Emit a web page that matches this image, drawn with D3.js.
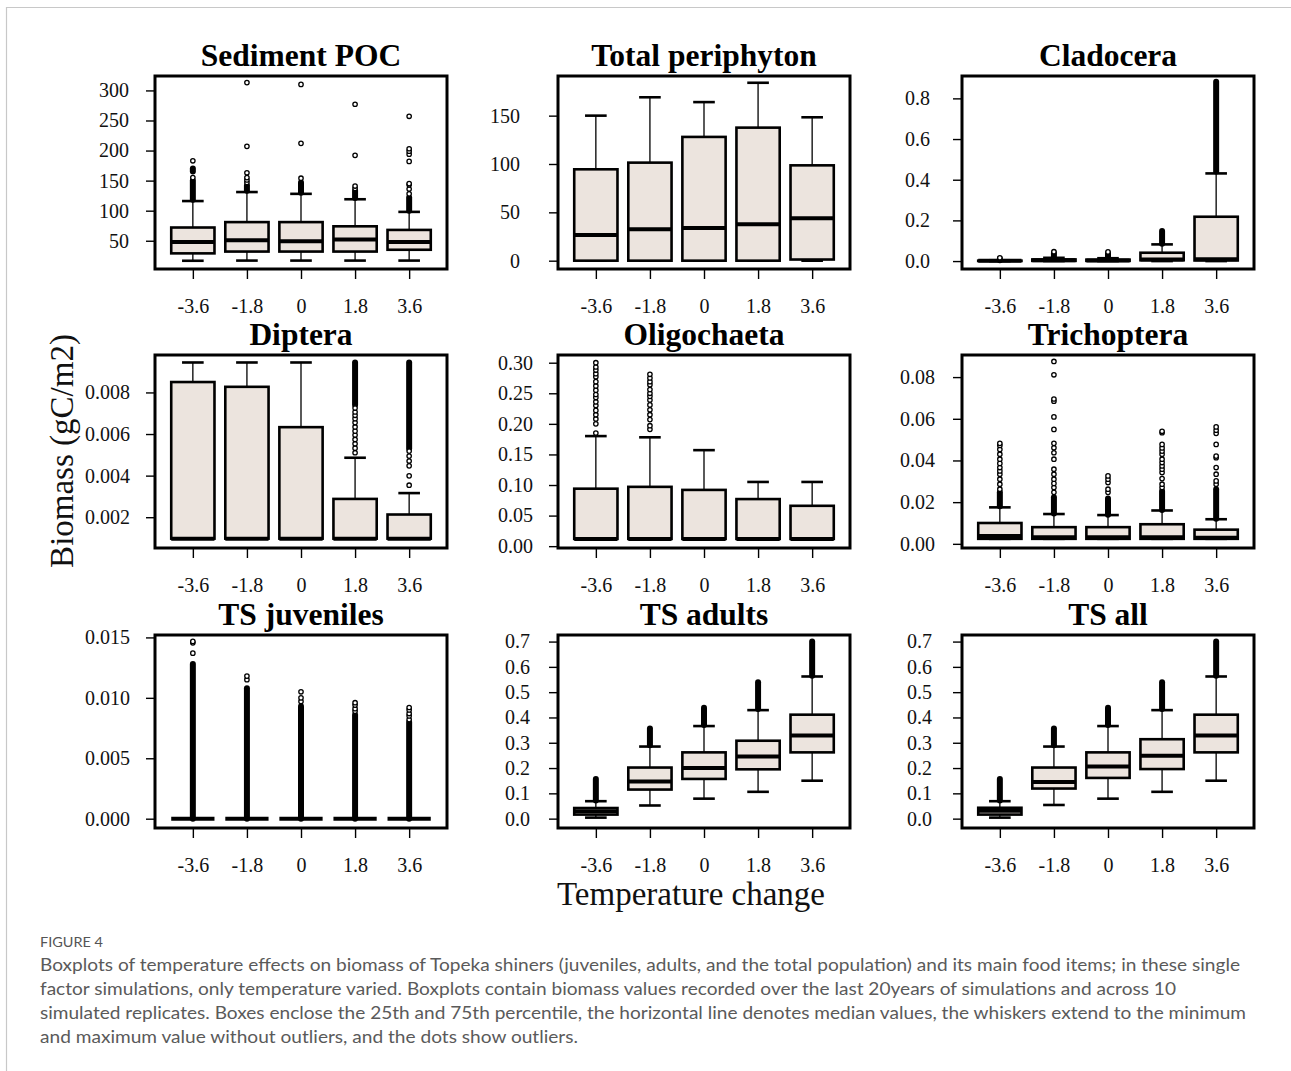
<!DOCTYPE html>
<html><head><meta charset="utf-8">
<script src="https://cdn.jsdelivr.net/npm/d3@7"></script>
<style>body{margin:0;background:#fff} svg{display:block}</style>
</head><body>
<script>
// ---------------- DATA ----------------
const categories = ["-3.6", "-1.8", "0", "1.8", "3.6"];
const panelTitles = ["Sediment POC", "Total periphyton", "Cladocera", "Diptera", "Oligochaeta", "Trichoptera", "TS juveniles", "TS adults", "TS all"];

// box statistics per category: [lowerWhisker, Q1, median, Q3, upperWhisker]
const sedimentStats = [[16.7, 29, 48, 72, 116], [17, 32, 51, 81, 131], [17, 32, 49, 81, 128], [17, 32, 52, 74, 119], [17, 35, 48, 68, 98]];
const sedimentDense = [[[118, 150], [165, 170]], [[133, 142]], [[130, 147]], [[121, 133]], [[100, 122]]];
const sedimentOut = [[155, 183], [147, 151, 155, 163, 207, 313], [154, 212, 310], [137, 141, 192, 277], [128, 136, 143, 145, 182, 194, 199, 203, 257]];

const periphytonStats = [[0, 0, 26.6, 94.5, 150], [0, 0, 32.4, 101.4, 169], [0, 0, 33.8, 128, 164], [0, 0, 37.6, 137.6, 184], [0, 1.2, 43.8, 98.6, 148.3]];
const periphytonDense = [[], [], [], [], []];
const periphytonOut = [[], [], [], [], []];

const cladoceraStats = [[0, 0.0005, 0.001, 0.002, 0.004], [0, 0.001, 0.004, 0.008, 0.016], [0, 0.001, 0.003, 0.007, 0.014], [0, 0.004, 0.008, 0.041, 0.082], [0, 0.003, 0.009, 0.218, 0.431]];
const cladoceraDense = [[[0.004, 0.012]], [[0.016, 0.04]], [[0.014, 0.038]], [[0.085, 0.148]], [[0.44, 0.882]]];
const cladoceraOut = [[0.016], [0.046], [0.045], [], []];

const dipteraStats = [[0.00097, 0.00097, 0.00097, 0.0085, 0.00944], [0.00097, 0.00097, 0.00097, 0.00827, 0.00944], [0.00097, 0.00097, 0.00097, 0.00633, 0.00944], [0.00097, 0.00097, 0.00097, 0.00288, 0.00486], [0.00097, 0.00097, 0.00097, 0.00213, 0.00316]];
const dipteraDense = [[], [], [], [[0.0074, 0.00944]], [[0.0053, 0.00944]]];
const dipteraOut = [[], [], [], [0.0051, 0.00532, 0.00553, 0.00574, 0.00595, 0.00614, 0.00634, 0.00655, 0.00674, 0.0069, 0.00706, 0.00725], [0.00354, 0.00399, 0.00447, 0.0047, 0.00494, 0.00518]];

const oligoStats = [[0.0119, 0.0119, 0.0119, 0.094, 0.18], [0.0119, 0.0119, 0.0119, 0.097, 0.178], [0.0119, 0.0119, 0.0119, 0.092, 0.157], [0.0119, 0.0119, 0.0119, 0.077, 0.105], [0.0119, 0.0119, 0.0119, 0.066, 0.105]];
const oligoDense = [[], [], [], [], []];
const oligoOut = [[0.185, 0.200, 0.208, 0.215, 0.222, 0.230, 0.236, 0.243, 0.248, 0.255, 0.262, 0.269, 0.277, 0.282, 0.288, 0.293, 0.300],
  [0.191, 0.197, 0.207, 0.215, 0.223, 0.231, 0.239, 0.245, 0.250, 0.256, 0.264, 0.269, 0.275, 0.281], [], [], []];

const trichStats = [[0.0024, 0.0024, 0.0037, 0.010, 0.0175], [0.0024, 0.0024, 0.0032, 0.008, 0.0143], [0.0024, 0.0024, 0.0032, 0.008, 0.0138], [0.0024, 0.0024, 0.0032, 0.0094, 0.016], [0.0024, 0.0024, 0.0029, 0.0068, 0.0118]];
const trichDense = [[[0.018, 0.0247]], [[0.0145, 0.0223]], [[0.014, 0.0218]], [[0.0162, 0.0254]], [[0.012, 0.0262]]];
const trichOut = [[0.0262, 0.0286, 0.031, 0.0334, 0.035, 0.0366, 0.0386, 0.0406, 0.043, 0.0453, 0.0472, 0.0482],
  [0.0247, 0.027, 0.029, 0.031, 0.0334, 0.0358, 0.0406, 0.0437, 0.0461, 0.0482, 0.0549, 0.0609, 0.0684, 0.0695, 0.0811, 0.0875],
  [0.0247, 0.0262, 0.0294, 0.031, 0.0326],
  [0.027, 0.0286, 0.0313, 0.0342, 0.0358, 0.0374, 0.039, 0.0406, 0.043, 0.0445, 0.046, 0.0477, 0.0533, 0.054],
  [0.0286, 0.0302, 0.0334, 0.0366, 0.0413, 0.0421, 0.0477, 0.053, 0.0545, 0.0561]];

const juvStats = [[0, 0, 0, 0, 0], [0, 0, 0, 0, 0], [0, 0, 0, 0, 0], [0, 0, 0, 0, 0], [0, 0, 0, 0, 0]];
const juvDense = [[[0, 0.0128]], [[0, 0.0108]], [[0, 0.0093]], [[0, 0.0086]], [[0, 0.0080]]];
const juvOut = [[0.0137, 0.01455, 0.01467], [0.0115, 0.0118], [0.0097, 0.0100, 0.0105], [0.0089, 0.0091, 0.0094, 0.0096], [0.0082, 0.0085, 0.0087, 0.0090, 0.0092]];

const adultStats = [[0.004, 0.016, 0.029, 0.042, 0.069], [0.052, 0.115, 0.147, 0.202, 0.285], [0.079, 0.157, 0.200, 0.262, 0.366], [0.106, 0.195, 0.246, 0.308, 0.429], [0.150, 0.262, 0.329, 0.411, 0.562]];
const adultDense = [[[0.072, 0.157]], [[0.290, 0.356]], [[0.370, 0.438]], [[0.433, 0.539]], [[0.565, 0.700]]];
const adultOut = [[], [], [], [], []];

const allStats = [[0.004, 0.016, 0.031, 0.043, 0.069], [0.054, 0.119, 0.145, 0.202, 0.285], [0.079, 0.161, 0.206, 0.262, 0.366], [0.106, 0.196, 0.249, 0.314, 0.429], [0.150, 0.262, 0.329, 0.411, 0.562]];
const allDense = [[[0.072, 0.157]], [[0.290, 0.356]], [[0.370, 0.438]], [[0.433, 0.539]], [[0.565, 0.700]]];
const allOut = [[], [], [], [], []];

// y-axis ticks and domains per panel
const yTicks = [[50, 100, 150, 200, 250, 300], [0, 50, 100, 150], [0, 0.2, 0.4, 0.6, 0.8], [0.002, 0.004, 0.006, 0.008], [0, 0.05, 0.10, 0.15, 0.20, 0.25, 0.30], [0, 0.02, 0.04, 0.06, 0.08], [0, 0.005, 0.010, 0.015], [0, 0.1, 0.2, 0.3, 0.4, 0.5, 0.6, 0.7], [0, 0.1, 0.2, 0.3, 0.4, 0.5, 0.6, 0.7]];
const yTickFormats = ["d", "d", ".1f", ".3f", ".2f", ".2f", ".3f", ".1f", ".1f"];
const yDomains = [[3, 324], [-8.6, 191], [-0.039, 0.91], [0.00052, 0.0098], [-0.003, 0.3126], [-0.002, 0.0906], [-0.00077, 0.0152], [-0.037, 0.726], [-0.037, 0.726]];

const yLabel = "Biomass (gC/m2)";
const xLabel = "Temperature change";
const figLabel = "FIGURE 4";
const captionLines = [
  "Boxplots of temperature effects on biomass of Topeka shiners (juveniles, adults, and the total population) and its main food items; in these single",
  "factor simulations, only temperature varied. Boxplots contain biomass values recorded over the last 20years of simulations and across 10",
  "simulated replicates. Boxes enclose the 25th and 75th percentile, the horizontal line denotes median values, the whiskers extend to the minimum",
  "and maximum value without outliers, and the dots show outliers."
];

// ---------------- LAYOUT ----------------
const W = 1291, H = 1071;
const colLeft = [155, 558, 962];
const rowTop = [76, 355, 635];
const PW = 292, PH = 193;
const labelPads = [17, 29, 23, 16, 16, 18, 16, 19, 21];
const captionWidths = [1200, 1136, 1206, 538];
const serif = "'Liberation Serif', 'Times New Roman', serif";
const boxFill = "#ece4de";

const panels = [
  [sedimentStats, sedimentDense, sedimentOut], [periphytonStats, periphytonDense, periphytonOut], [cladoceraStats, cladoceraDense, cladoceraOut],
  [dipteraStats, dipteraDense, dipteraOut], [oligoStats, oligoDense, oligoOut], [trichStats, trichDense, trichOut],
  [juvStats, juvDense, juvOut], [adultStats, adultDense, adultOut], [allStats, allDense, allOut]
];

const svg = d3.select("body").append("svg").attr("width", W).attr("height", H);
svg.append("rect").attr("width", W).attr("height", H).attr("fill", "#fff");
// card border
svg.append("line").attr("x1", 6.5).attr("x2", W).attr("y1", 7.5).attr("y2", 7.5).attr("stroke", "#c8c8c8").attr("stroke-width", 1.2);
svg.append("line").attr("x1", 6.5).attr("x2", 6.5).attr("y1", 7).attr("y2", H).attr("stroke", "#c8c8c8").attr("stroke-width", 1.2);

panels.forEach((p, i) => {
  const [stats, dense, outs] = p;
  const left = colLeft[i % 3], top = rowTop[Math.floor(i / 3)];
  const x = d3.scaleLinear().domain([0.3, 5.7]).range([left, left + PW]);
  const y = d3.scaleLinear().domain(yDomains[i]).range([top + PH, top]);
  const g = svg.append("g");

  // title
  g.append("text").attr("x", left + PW / 2).attr("y", top - 10).attr("text-anchor", "middle")
    .style("font-family", serif).style("font-weight", "bold").style("font-size", "31.5px").text(panelTitles[i]);

  // y axis
  const ya = g.append("g").attr("transform", `translate(${left},0)`)
    .call(d3.axisLeft(y).tickValues(yTicks[i]).tickFormat(d3.format(yTickFormats[i])).tickSize(9).tickPadding(labelPads[i]));
  ya.select(".domain").remove();
  ya.selectAll("line").attr("stroke-width", 1.4);
  ya.selectAll("text").style("font-family", serif).style("font-size", "20px").attr("fill", "#111");

  // x axis
  const xa = g.append("g").attr("transform", `translate(0,${top + PH})`)
    .call(d3.axisBottom(x).tickValues([1, 2, 3, 4, 5]).tickFormat((d) => categories[d - 1]).tickSize(10).tickPadding(20));
  xa.select(".domain").remove();
  xa.selectAll("line").attr("stroke-width", 1.4);
  xa.selectAll("text").style("font-family", serif).style("font-size", "20px").attr("fill", "#111");

  stats.forEach((s, k) => {
    const c = k + 1;
    const [lw, q1, med, q3, uw] = s;
    const bg = g.append("g");
    // whiskers
    bg.append("line").attr("x1", x(c)).attr("x2", x(c)).attr("y1", y(q3)).attr("y2", y(uw)).attr("stroke", "#000").attr("stroke-width", 1.3);
    bg.append("line").attr("x1", x(c)).attr("x2", x(c)).attr("y1", y(q1)).attr("y2", y(lw)).attr("stroke", "#000").attr("stroke-width", 1.3);
    // staples
    [lw, uw].forEach((v) => {
      bg.append("line").attr("x1", x(c - 0.2)).attr("x2", x(c + 0.2)).attr("y1", y(v)).attr("y2", y(v)).attr("stroke", "#000").attr("stroke-width", 2.6);
    });
    // box
    bg.append("rect").attr("x", x(c - 0.4)).attr("width", x(c + 0.4) - x(c - 0.4))
      .attr("y", y(q3)).attr("height", Math.max(0, y(q1) - y(q3)))
      .attr("fill", boxFill).attr("stroke", "#000").attr("stroke-width", 2.6);
    // median
    bg.append("line").attr("x1", x(c - 0.4)).attr("x2", x(c + 0.4)).attr("y1", y(med)).attr("y2", y(med)).attr("stroke", "#000").attr("stroke-width", 4);
    // dense outlier runs
    dense[k].forEach((r) => {
      bg.append("line").attr("x1", x(c)).attr("x2", x(c)).attr("y1", y(r[0])).attr("y2", y(r[1]))
        .attr("stroke", "#000").attr("stroke-width", 6).attr("stroke-linecap", "round");
    });
    // sparse outliers
    bg.selectAll("circle.o").data(outs[k]).enter().append("circle").attr("class", "o")
      .attr("cx", x(c)).attr("cy", (d) => y(d)).attr("r", 2.2)
      .attr("fill", "#fff").attr("stroke", "#000").attr("stroke-width", 1.3);
  });

  // frame
  g.append("rect").attr("x", left).attr("y", top).attr("width", PW).attr("height", PH)
    .attr("fill", "none").attr("stroke", "#000").attr("stroke-width", 3);
});

// axis titles
svg.append("text").attr("transform", "translate(73,451) rotate(-90)").attr("text-anchor", "middle")
  .style("font-family", serif).style("font-size", "33px").attr("fill", "#111").text(yLabel);
svg.append("text").attr("x", 691).attr("y", 905).attr("text-anchor", "middle")
  .style("font-family", serif).style("font-size", "33px").attr("fill", "#111").text(xLabel);

// caption
svg.append("text").attr("x", 40).attr("y", 947).attr("textLength", 63).attr("lengthAdjust", "spacingAndGlyphs")
  .style("font-family", "Lato, 'Open Sans', sans-serif").style("font-size", "13px").attr("fill", "#555").text(figLabel);
captionLines.forEach((t, i) => {
  svg.append("text").attr("x", 40).attr("y", 971 + i * 24).attr("textLength", captionWidths[i]).attr("lengthAdjust", "spacingAndGlyphs")
    .style("font-family", "Lato, 'Open Sans', sans-serif").style("font-size", "17.5px").attr("fill", "#5a5a5a").text(t);
});
</script>
</body></html>
